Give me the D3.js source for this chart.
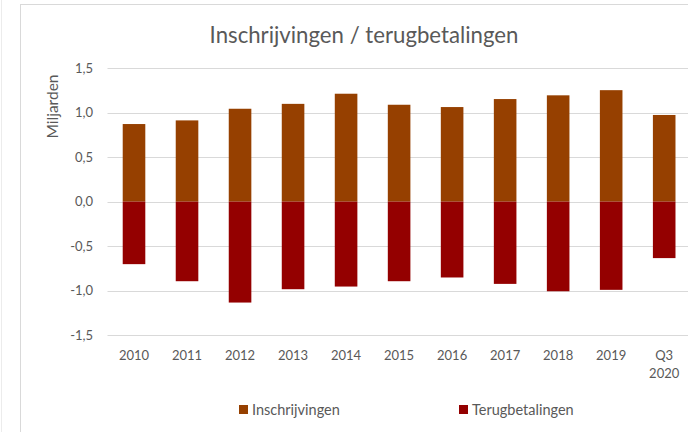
<!DOCTYPE html>
<html>
<head>
<meta charset="utf-8">
<script src="https://cdn.jsdelivr.net/npm/d3@7"></script>
<style>
  html, body { margin: 0; padding: 0; background: #fff; }
  svg { display: block; }
  text { font-family: Lato, "Open Sans", sans-serif; fill: #595959; }
</style>
</head>
<body>
<svg id="chart" width="688" height="432"></svg>
<script>
// ---- data ----
const categories = ["2010", "2011", "2012", "2013", "2014", "2015", "2016", "2017", "2018", "2019", "Q3\n2020"];
const inschrijvingen = [0.873, 0.914, 1.045, 1.10, 1.214, 1.09, 1.064, 1.154, 1.196, 1.254, 0.975];
const terugbetalingen = [-0.703, -0.895, -1.135, -0.985, -0.955, -0.895, -0.853, -0.925, -1.008, -0.992, -0.635];
const yTicks = [-1.5, -1.0, -0.5, 0, 0.5, 1.0, 1.5];
const seriesNames = ["Inschrijvingen", "Terugbetalingen"];
const title = "Inschrijvingen / terugbetalingen";
const yLabel = "Miljarden";

// ---- style ----
const colors = ["#964000", "#940000"];
const gridColor = "#d9d9d9";

const svg = d3.select("#chart");

// outer faint edge and chart frame
svg.append("line").attr("x1", 1.5).attr("x2", 1.5).attr("y1", 0).attr("y2", 432)
  .attr("stroke", "#ececec").attr("stroke-width", 1);
svg.append("rect").attr("x", 20.5).attr("y", 4.5).attr("width", 700).attr("height", 440)
  .attr("fill", "#fff").attr("stroke", gridColor).attr("stroke-width", 1);

const x = d3.scaleBand().domain(categories).range([107.5, 690.7]).paddingInner(0.574).paddingOuter(0.287);
const y = d3.scaleLinear().domain([-1.5, 1.5]).range([335, 68.3]);

const fmt = v => d3.format(".1f")(v).replace(".", ",").replace("−", "-");

// gridlines
svg.append("g").selectAll("line").data(yTicks).join("line")
  .attr("x1", 107.5).attr("x2", 688)
  .attr("y1", d => Math.round(y(d)) + 0.5).attr("y2", d => Math.round(y(d)) + 0.5)
  .attr("stroke", gridColor).attr("stroke-width", 1);

// y tick labels
svg.append("g").selectAll("text").data(yTicks).join("text")
  .attr("x", 93).attr("y", d => y(d) + 4.5)
  .attr("text-anchor", "end").attr("font-size", 13)
  .text(d => fmt(d));

// bars
const bars = svg.append("g");
bars.selectAll("rect.pos").data(inschrijvingen).join("rect").attr("class", "pos")
  .attr("x", (d, i) => x(categories[i])).attr("width", x.bandwidth())
  .attr("y", d => y(d)).attr("height", d => y(0) - y(d))
  .attr("fill", colors[0]);
bars.selectAll("rect.neg").data(terugbetalingen).join("rect").attr("class", "neg")
  .attr("x", (d, i) => x(categories[i])).attr("width", x.bandwidth())
  .attr("y", y(0)).attr("height", d => y(d) - y(0))
  .attr("fill", colors[1]);

// x labels
const xl = svg.append("g").selectAll("text").data(categories).join("text")
  .attr("x", d => x(d) + x.bandwidth() / 2).attr("y", 360)
  .attr("text-anchor", "middle").attr("font-size", 13);
xl.each(function(d) {
  const parts = d.split("\n");
  d3.select(this).selectAll("tspan").data(parts).join("tspan")
    .attr("x", x(d) + x.bandwidth() / 2)
    .attr("dy", (p, j) => j === 0 ? 0 : 17.5)
    .text(p => p);
});

// title
svg.append("text").attr("x", 364).attr("y", 43).attr("text-anchor", "middle")
  .attr("font-size", 22.2).text(title);

// y axis label
svg.append("text").attr("transform", "translate(57.5,106.5) rotate(-90)")
  .attr("text-anchor", "middle").attr("font-size", 15.5).text(yLabel);

// legend
const legendX = [239, 459];
const lg = svg.append("g").selectAll("g").data(seriesNames).join("g")
  .attr("transform", (d, i) => `translate(${legendX[i]},405)`);
lg.append("rect").attr("width", 9).attr("height", 9).attr("fill", (d, i) => colors[i]);
lg.append("text").attr("x", 13).attr("y", 10).attr("font-size", 14.5).text(d => d);
</script>
</body>
</html>
